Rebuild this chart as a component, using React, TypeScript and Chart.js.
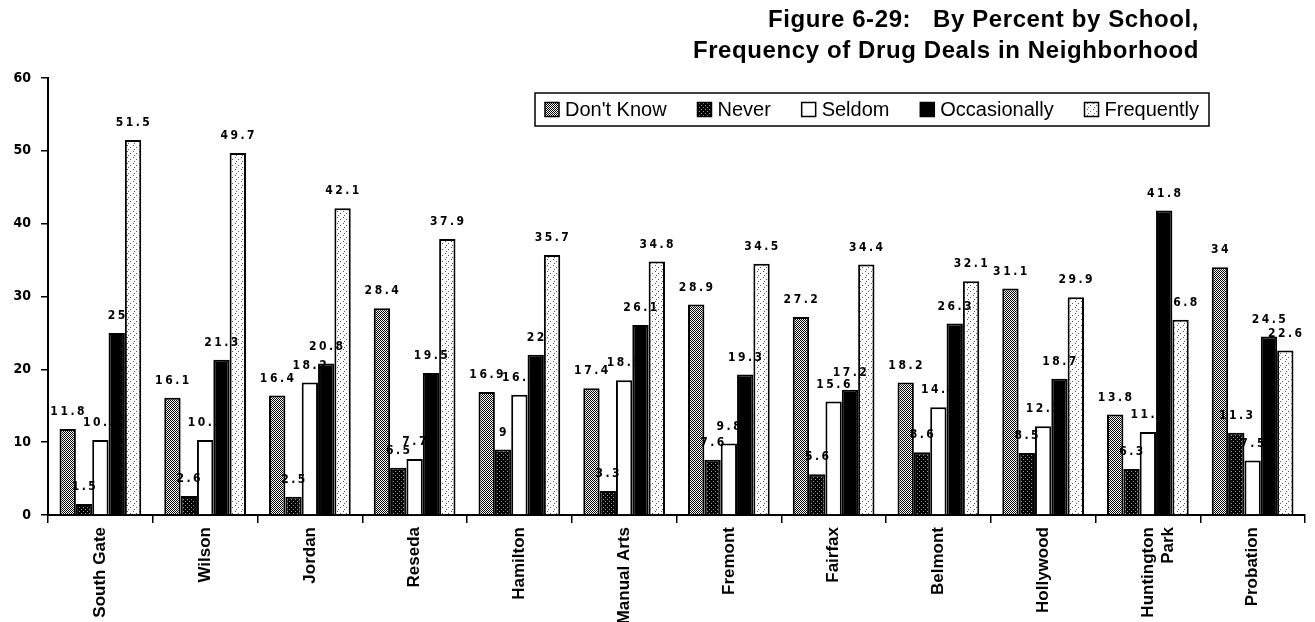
import React, { useEffect, useRef } from "react";
import { Chart, registerables } from "chart.js";

Chart.register(...registerables);

const titleLines = ["Figure 6-29:   By Percent by School,", "Frequency of Drug Deals in Neighborhood"];
const categories: (string | string[])[] = [
  "South Gate", "Wilson", "Jordan", "Reseda", "Hamilton", "Manual Arts",
  "Fremont", "Fairfax", "Belmont", "Hollywood", ["Huntington", "Park"], "Probation",
];
const seriesNames = ["Don't Know", "Never", "Seldom", "Occasionally", "Frequently"];
const dontKnow = [11.8, 16.1, 16.4, 28.4, 16.9, 17.4, 28.9, 27.2, 18.2, 31.1, 13.8, 34];
const never = [1.5, 2.6, 2.5, 6.5, 9, 3.3, 7.6, 5.6, 8.6, 8.5, 6.3, 11.3];
const seldom = [10.3, 10.3, 18.2, 7.7, 16.5, 18.5, 9.8, 15.6, 14.8, 12.2, 11.4, 7.5];
const occasionally = [25, 21.3, 20.8, 19.5, 22, 26.1, 19.3, 17.2, 26.3, 18.7, 41.8, 24.5];
const frequently = [51.5, 49.7, 42.1, 37.9, 35.7, 34.8, 34.5, 34.4, 32.1, 29.9, 26.8, 22.6];
const yTicks = [0, 10, 20, 30, 40, 50, 60];

function makePattern(size: number, bg: string, fg: string, dots: number[][]): CanvasPattern | string {
  const c = document.createElement("canvas");
  c.width = size;
  c.height = size;
  const g = c.getContext("2d");
  if (!g) return bg;
  g.fillStyle = bg;
  g.fillRect(0, 0, size, size);
  g.fillStyle = fg;
  dots.forEach(([x, y]) => g.fillRect(x, y, 1, 1));
  const p = g.createPattern(c, "repeat");
  return p || bg;
}

export default function App() {
  const ref = useRef<HTMLCanvasElement | null>(null);

  useEffect(() => {
    document.body.style.margin = "0";
    const canvas = ref.current;
    if (!canvas) return;

    const fills = [
      makePattern(2, "#ffffff", "#000000", [[0, 0], [1, 1]]),
      makePattern(4, "#000000", "#9a9a9a", [[1, 1], [3, 3]]),
      "#ffffff",
      "#000000",
      makePattern(6, "#ffffff", "#555555", [[1, 1], [4, 3], [2, 5]]),
    ];
    const values = [dontKnow, never, seldom, occasionally, frequently];

    const numFont = 'bold 12px "Liberation Sans Narrow", "DejaVu Sans Condensed", "Liberation Sans", sans-serif';

    const decor = {
      id: "decor",
      afterDatasetsDraw(chart: any) {
        const ctx = chart.ctx as CanvasRenderingContext2D;
        // value labels
        ctx.save();
        ctx.fillStyle = "#000";
        ctx.font = numFont;
        (ctx as any).letterSpacing = "2.5px";
        ctx.textAlign = "center";
        ctx.textBaseline = "bottom";
        chart.data.datasets.forEach((ds: any, di: number) => {
          const meta = chart.getDatasetMeta(di);
          meta.data.forEach((el: any, i: number) => {
            ctx.fillText(String(ds.data[i]), el.x + 1, el.y - 11);
          });
        });
        ctx.restore();

        // title
        ctx.save();
        ctx.fillStyle = "#000";
        ctx.font = 'bold 24px "Liberation Sans", Arial, sans-serif';
        (ctx as any).letterSpacing = "0.6px";
        ctx.textAlign = "right";
        ctx.textBaseline = "alphabetic";
        ctx.fillText(titleLines[0], 1199, 27);
        ctx.fillText(titleLines[1], 1199, 58);
        ctx.restore();

        // legend
        ctx.save();
        ctx.font = '20px "Liberation Sans", Arial, sans-serif';
        const boxL = 535, boxT = 93, boxR = 1209, boxB = 126;
        ctx.fillStyle = "#fff";
        ctx.fillRect(boxL, boxT, boxR - boxL, boxB - boxT);
        ctx.strokeStyle = "#000";
        ctx.lineWidth = 1.5;
        ctx.strokeRect(boxL, boxT, boxR - boxL, boxB - boxT);
        const widths = seriesNames.map((n) => ctx.measureText(n).width);
        const icon = 14;
        const itemW = widths.reduce((a, w) => a + icon + 6 + w, 0);
        const gap = (boxR - boxL - 20 - itemW) / (seriesNames.length - 1);
        let x = boxL + 10;
        const cy = (boxT + boxB) / 2;
        seriesNames.forEach((n, i) => {
          ctx.fillStyle = fills[i] as any;
          ctx.fillRect(x, cy - icon / 2, icon, icon);
          ctx.strokeStyle = "#000";
          ctx.lineWidth = 1.5;
          ctx.strokeRect(x, cy - icon / 2, icon, icon);
          ctx.fillStyle = "#000";
          ctx.textAlign = "left";
          ctx.textBaseline = "middle";
          ctx.fillText(n, x + icon + 6, cy + 1);
          x += icon + 6 + widths[i] + gap;
        });
        ctx.restore();
      },
    };

    const chart = new Chart(canvas, {
      type: "bar",
      data: {
        labels: categories as any,
        datasets: seriesNames.map((name, i) => ({
          label: name,
          data: values[i],
          backgroundColor: fills[i] as any,
          borderColor: "#000",
          borderWidth: 2,
          barPercentage: 1,
          categoryPercentage: 0.78,
        })),
      },
      options: {
        animation: false,
        responsive: true,
        maintainAspectRatio: false,
        layout: { padding: { top: 78, right: 10, left: 0, bottom: 0 } },
        plugins: {
          legend: { display: false },
          title: { display: false },
          tooltip: { enabled: false },
        },
        scales: {
          x: {
            grid: { display: true, offset: true, drawOnChartArea: false, tickLength: 8, color: "#000", lineWidth: 1.5 },
            border: { display: true, color: "#000", width: 2 },
            ticks: {
              color: "#000",
              minRotation: 90,
              maxRotation: 90,
              padding: 4,
              autoSkip: false,
              font: { family: '"Liberation Sans", Arial, sans-serif', size: 17, weight: "bold" },
            },
            afterFit: (s: any) => { s.height = 107; },
          },
          y: {
            min: 0,
            max: 60,
            afterBuildTicks: (s: any) => { s.ticks = yTicks.map((v) => ({ value: v })); },
            grid: { display: true, drawOnChartArea: false, tickLength: 7, color: "#000", lineWidth: 1.5 },
            border: { display: true, color: "#000", width: 2 },
            ticks: {
              color: "#000",
              padding: 10,
              font: { family: '"Liberation Sans Narrow", "DejaVu Sans Condensed", "Liberation Sans", sans-serif', size: 14, weight: "bold" },
            },
            afterFit: (s: any) => { s.width = 48; },
          },
        },
      },
      plugins: [decor],
    });
    return () => chart.destroy();
  }, []);

  return (
    <div style={{ position: "fixed", left: 0, top: 0, width: 1315, height: 622, background: "#fff" }}>
      <canvas ref={ref} />
    </div>
  );
}
